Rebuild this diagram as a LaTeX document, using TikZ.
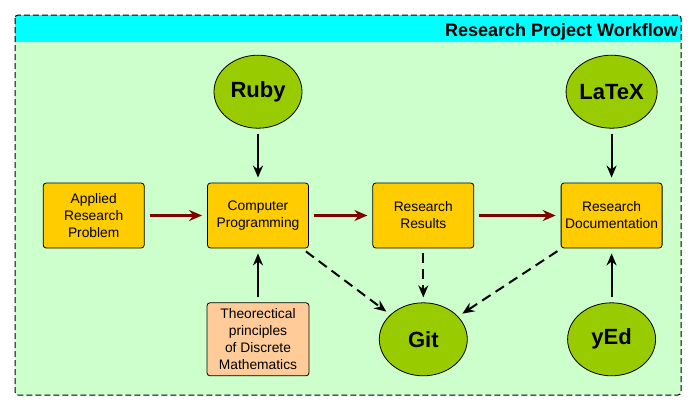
\documentclass[tikz,border=0pt]{standalone}
\usepackage{fontspec}
\setmainfont{Liberation Sans}
\usetikzlibrary{positioning}
\usetikzlibrary{arrows.meta}
\usetikzlibrary{shapes.geometric}

\definecolor{groupbg}{HTML}{CCFFCC}
\definecolor{headbg}{HTML}{00FFFF}
\definecolor{taskfill}{HTML}{FFCC00}
\definecolor{theofill}{HTML}{FFCC99}
\definecolor{toolfill}{HTML}{99CC00}
\definecolor{flowred}{HTML}{800000}

\begin{document}
\begin{tikzpicture}[x=1pt,y=-1pt,
  every node/.style={font=\fontsize{13.8}{17}\selectfont},
  task/.style={draw,line width=0.8pt,rounded corners=3pt,fill=taskfill,align=center,
    minimum width=101pt,minimum height=65pt,inner sep=0pt},
  tool/.style={draw,line width=0.8pt,ellipse,fill=toolfill,minimum width=88pt,
    minimum height=73pt,inner sep=0pt,font=\fontsize{22}{24}\selectfont\bfseries},
  flow/.style={-{Stealth[length=13pt,width=11pt]},line width=3pt,flowred,
    shorten <=5pt,shorten >=5pt},
  uses/.style={-{Stealth[length=12pt,width=10pt]},line width=2pt,
    shorten <=5pt,shorten >=5pt},
  stores/.style={uses,dash pattern=on 10pt off 6pt}]
  \useasboundingbox (0,0) rectangle (697,410);

  % group frame
  \fill[groupbg,rounded corners=3pt] (15,15) rectangle (681,395);
  \fill[headbg,rounded corners=3pt] (15,15) rectangle (681,30);
  \fill[headbg] (15,25) rectangle (681,41.7);
  \draw[dash pattern=on 6pt off 3pt,line width=1pt,rounded corners=3pt] (15,15) rectangle (681,395);
  \node[anchor=base east,inner sep=0pt,font=\fontsize{18}{20}\selectfont\bfseries] (title) at (678,36.7) {Research Project Workflow};

  % workflow steps
  \node[task] (comp) at (258,215.5) {Computer\\Programming};
  \node[task,left=62.5pt of comp] (prob) {Applied\\Research\\Problem};
  \node[task,right=63.5pt of comp] (res) {Research\\Results};
  \node[task,right=86.5pt of res] (doc) {Research\\Documentation};
  \node[task,fill=theofill,minimum width=102pt,minimum height=73pt,below=54pt of comp] (theo) {Theorectical\\principles\\of Discrete\\Mathematics};

  % tools
  \node[tool,above=54pt of comp] (ruby) {Ruby};
  \node[tool,above=54pt of doc] (latex) {LaTeX};
  \node[tool,below=54pt of res] (git) {Git};
  \node[tool,below=54pt of doc] (yed) {yEd};

  \draw[flow](prob)--(comp);
  \draw[flow](comp)--(res);
  \draw[flow](res)--(doc);
  \draw[uses](ruby)--(comp);
  \draw[uses](latex)--(doc);
  \draw[uses](theo)--(comp);
  \draw[uses](yed)--(doc);
  \draw[stores](comp)--(git);
  \draw[stores](res)--(git);
  \draw[stores](doc)--(git);
\end{tikzpicture}
\end{document}
